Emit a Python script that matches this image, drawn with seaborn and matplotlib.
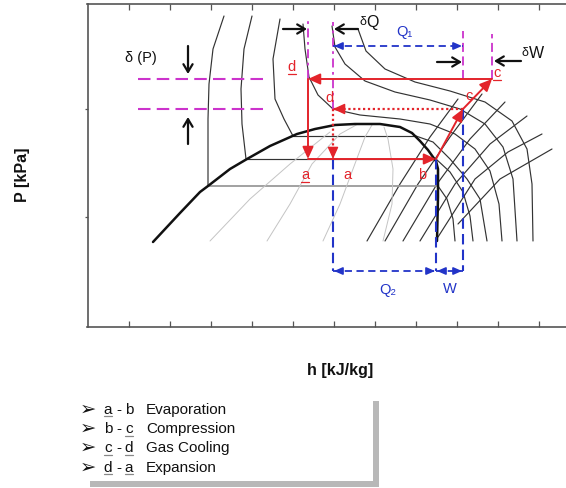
import matplotlib
matplotlib.use("Agg")
import matplotlib.pyplot as plt
import seaborn as sns
import pandas as pd

# ---------------- data (diagram units: h to the right, p up from the bottom axis) -------------
h_ticks = [128.5, 169.5, 210.5, 251.5, 292.5, 333.5, 374.5, 415.5, 456.5, 497.5, 538.5]
p_ticks = [110, 218]

# saturation dome
dome_h = [153, 180, 200, 208, 230, 247, 270, 297, 315, 335, 355, 380, 400, 412, 420, 428, 433, 436, 438, 438, 437]
dome_p = [85, 114, 135, 141, 158, 168, 181, 193, 198, 202, 203, 203, 200, 194, 186, 177, 170, 166, 158, 130, 86]

# isotherms (liquid / two-phase / vapour parts)
t1_liq_h = [224, 213, 209, 208, 208]
t1_liq_p = [311, 278, 243, 208, 141]
t1_two_h = [208, 438]
t1_two_p = [141, 141]
t1_vap_h = [438, 447, 453, 455]
t1_vap_p = [141, 128, 108, 86]

t2_liq_h = [252, 244, 241, 242, 246]
t2_liq_p = [311, 278, 238, 203, 168]
t2_two_h = [246, 436]
t2_two_p = [168, 168]
t2_vap_h = [436, 450, 463, 470, 473]
t2_vap_p = [168, 155, 135, 111, 86]

t3_liq_h = [280, 273, 275, 284, 293]
t3_liq_p = [308, 268, 228, 208, 191]
t3_two_h = [293, 416]
t3_two_p = [191, 191]
t3_vap_h = [416, 433, 450, 467, 480, 487]
t3_vap_p = [191, 185, 168, 148, 128, 86]

t4_h = [303, 305, 309, 318, 333, 360, 400, 430, 455, 475, 490, 499, 502]
t4_p = [303, 278, 250, 232, 218, 212, 208, 203, 193, 178, 156, 123, 86]
t5_h = [332, 335, 345, 365, 395, 430, 460, 485, 503, 513, 517]
t5_p = [301, 280, 263, 246, 235, 227, 218, 203, 180, 148, 86]
t6_h = [358, 366, 385, 415, 450, 485, 512, 527, 532, 533]
t6_p = [298, 276, 258, 245, 236, 225, 206, 178, 143, 86]

# isentropes
s1_h = [367, 400, 430, 458]
s1_p = [86, 143, 190, 228]
s2_h = [385, 418, 450, 482]
s2_p = [86, 143, 190, 233]
s3_h = [403, 437, 470, 505]
s3_p = [86, 143, 188, 225]
s4_h = [420, 455, 490, 527]
s4_p = [86, 143, 183, 211]
s5_h = [438, 475, 508, 542]
s5_p = [90, 148, 175, 193]
s6_h = [458, 500, 552]
s6_p = [103, 148, 178]

# constant quality lines inside the dome
q1_h = [210, 250, 290, 330]
q1_p = [86, 128, 163, 195]
q2_h = [267, 290, 312, 340, 358]
q2_p = [86, 123, 163, 193, 203]
q3_h = [323, 340, 353, 365, 372]
q3_p = [86, 123, 158, 190, 202]
q4_h = [383, 392, 393, 388, 384]
q4_p = [86, 123, 158, 188, 200]

# cycle states
state_names = ["a_", "a", "b", "c", "c_", "d", "d_"]
state_h = [308, 333, 436, 463, 492, 333, 308]
state_p = [168, 168, 168, 218, 248, 218, 248]
solid_steps = [("d_", "a_"), ("a_", "b"), ("b", "c"), ("c", "c_"), ("c_", "d_")]
dotted_steps = [("c", "d"), ("d", "a")]

# legend rows
legend_first = ["a", "b", "c", "d"]
legend_second = ["b", "c", "d", "a"]
legend_desc = ["Evaporation", "Compression", "Gas Cooling", "Expansion"]
underline_first = [True, False, True, True]
underline_second = [False, True, True, True]

# ---------------- style ----------------
sns.set_theme(style="white")
plt.rcParams["font.family"] = ["Liberation Sans", "DejaVu Sans"]

W, H = 566, 489
RED = "#e3242b"
BLUE = "#2234c8"
MAG = "#cc33cc"
BLK = "#111111"

def fx(x):
    return x / W

def fy(y):
    return 1 - y / H

fig = plt.figure(figsize=(W / 100, H / 100), dpi=100)
ax = fig.add_axes([fx(87.5), fy(328), fx(566) - fx(87.5), fy(4.5) - fy(328)])
ax.set_xlim(87.5, 566)
ax.set_ylim(0, 323.5)


def line(xs, ys, **kw):
    sns.lineplot(x=xs, y=ys, estimator=None, sort=False, ax=ax, legend=False, **kw)


# ---------------- curves through seaborn ----------------
groups = {
    "dark": [(t1_liq_h, t1_liq_p), (t1_vap_h, t1_vap_p), (t2_liq_h, t2_liq_p), (t2_two_h, t2_two_p),
             (t2_vap_h, t2_vap_p), (t3_liq_h, t3_liq_p), (t3_two_h, t3_two_p), (t3_vap_h, t3_vap_p),
             (t4_h, t4_p), (t5_h, t5_p), (t6_h, t6_p),
             (s1_h, s1_p), (s2_h, s2_p), (s3_h, s3_p), (s4_h, s4_p), (s5_h, s5_p), (s6_h, s6_p)],
    "gray": [(t1_two_h, t1_two_p)],
    "light": [(q1_h, q1_p), (q2_h, q2_p), (q3_h, q3_p), (q4_h, q4_p)],
    "dome": [(dome_h, dome_p)],
}
group_style = {"dark": ("#333333", 0.85), "gray": ("#9a9a9a", 1.3),
               "light": ("#c4c4c4", 0.7), "dome": ("#111111", 1.8)}

for g, items in groups.items():
    rows = []
    for i, (hh, pp) in enumerate(items):
        for k, (x, y) in enumerate(zip(hh, pp)):
            rows.append({"curve": i, "order": k, "h": x, "p": y})
    df = pd.DataFrame(rows)
    col, lw = group_style[g]
    sns.lineplot(data=df, x="h", y="p", units="curve", estimator=None, sort=False,
                 color=col, linewidth=lw, ax=ax, legend=False)

# ---------------- guide lines ----------------
pos = {n: (h, p) for n, h, p in zip(state_names, state_h, state_p)}

# magenta pressure / enthalpy markers
for pv in [pos["d_"][1], pos["d"][1]]:
    line([138, 268], [pv, pv], color=MAG, linewidth=1.5, linestyle=(0, (6, 3)))
for n, top in [("d_", 306), ("d", 305)]:
    line([pos[n][0]] * 2, [pos[n][1], top], color=MAG, linewidth=1.3,
         linestyle=(0, (5, 2.5, 1.5, 2.5)))
for xv, top in [(pos["c"][0], 296), (pos["c_"][0], 293)]:
    line([xv, xv], [248, top], color=MAG, linewidth=1.3, linestyle=(0, (5, 2.5)))

# blue verticals
for n in ["a", "b", "c"]:
    line([pos[n][0]] * 2, [pos[n][1], 56], color=BLUE, linewidth=1.5, linestyle=(0, (5, 2.5)))


def head(x0, y0, x1, y1, color, ms=11):
    ax.annotate("", xy=(x1, y1), xytext=(x0, y0),
                arrowprops=dict(arrowstyle="-|>,head_length=0.5,head_width=0.22", color=color,
                                lw=1.2, shrinkA=0, shrinkB=0, mutation_scale=ms))


def blue_double(xa, xb, yv):
    line([xa, xb], [yv, yv], color=BLUE, linewidth=1.3, linestyle=(0, (4, 2.5)))
    head(xa + 7, yv, xa + 1, yv, BLUE, 10)
    head(xb - 7, yv, xb - 1, yv, BLUE, 10)


blue_double(pos["a"][0], pos["b"][0], 56)
blue_double(pos["b"][0], pos["c"][0], 56)
blue_double(pos["a"][0], pos["c"][0], 281)

# ---------------- process lines ----------------
for s, e in solid_steps:
    ax.annotate("", xy=pos[e], xytext=pos[s],
                arrowprops=dict(arrowstyle="-|>,head_length=0.55,head_width=0.25", color=RED,
                                lw=1.4, shrinkA=0, shrinkB=0, mutation_scale=13))
for s, e in dotted_steps:
    (x0, y0), (x1, y1) = pos[s], pos[e]
    line([x0, x1], [y0, y1], color=RED, linewidth=1.6, linestyle=(0, (1, 1.2)))
    dx, dy = x1 - x0, y1 - y0
    L = (dx * dx + dy * dy) ** 0.5
    ax.annotate("", xy=(x1, y1), xytext=(x1 - 9 * dx / L, y1 - 9 * dy / L),
                arrowprops=dict(arrowstyle="-|>,head_length=0.55,head_width=0.25", color=RED,
                                lw=1.0, shrinkA=0, shrinkB=0, mutation_scale=13))

# ---------------- black arrows ----------------
black_arrows = [((188, 281), (188, 253)), ((188, 183), (188, 210)),
                ((283, 298), (307, 298)), ((358, 298), (334, 298)),
                ((437, 265), (462, 265)), ((521, 266), (494, 266))]
for s, e in black_arrows:
    ax.annotate("", xy=e, xytext=s,
                arrowprops=dict(arrowstyle="->,head_length=0.5,head_width=0.3", color=BLK,
                                lw=1.6, shrinkA=0, shrinkB=0, mutation_scale=11))

# ---------------- labels in plot ----------------
red_labels = [("d", 292, 261, True), ("d", 330, 230, False), ("c", 469, 232, False),
              ("c", 497, 255, True), ("a", 305, 153, True), ("a", 347, 153, False),
              ("b", 422, 153, False)]
for t, x, y, u in red_labels:
    ax.text(x, y, t, color=RED, fontsize=10.5, ha="center", va="center")
    if u:
        line([x - 4, x + 4], [y - 8, y - 8], color=RED, linewidth=0.9)

ax.text(125, 270, "δ (P)", color=BLK, fontsize=10.5, ha="left", va="center")
ax.text(359, 306, "δ", color=BLK, fontsize=9, ha="left", va="center")
ax.text(366, 305, "Q", color=BLK, fontsize=11.5, ha="left", va="center")
ax.text(521, 275, "δ", color=BLK, fontsize=9, ha="left", va="center")
ax.text(529, 274, "W", color=BLK, fontsize=11.5, ha="left", va="center")
ax.text(404, 296, "Q₁", color=BLUE, fontsize=10.5, ha="center", va="center")
ax.text(388, 38, "Q₂", color=BLUE, fontsize=10.5, ha="center", va="center")
ax.text(450, 39, "W", color=BLUE, fontsize=10.5, ha="center", va="center")

# ---------------- axes cosmetics ----------------
ax.set_xlabel("")
ax.set_ylabel("")
ax.set_xticks(h_ticks)
ax.set_yticks(p_ticks)
ax.set_xticklabels([])
ax.set_yticklabels([])
ax.tick_params(axis="x", which="both", direction="in", length=4.5, width=0.9, color="#555555",
               top=True, bottom=True)
ax.tick_params(axis="y", which="both", direction="out", length=2.5, width=0.9, color="#555555",
               left=True, right=False)
for side in ["left", "bottom", "top"]:
    ax.spines[side].set_visible(True)
    ax.spines[side].set_color("#555555")
    ax.spines[side].set_linewidth(1.2)
ax.spines["right"].set_visible(False)

fig.text(fx(22), fy(175), "P [kPa]", rotation=90, ha="center", va="center",
         fontsize=11.5, fontweight="bold", color=BLK)
fig.text(fx(340), fy(371), "h [kJ/kg]", ha="center", va="center",
         fontsize=11.5, fontweight="bold", color=BLK)

# ---------------- legend box ----------------
fig.add_artist(plt.Rectangle((fx(373), fy(488)), fx(6), fy(402) - fy(488),
                             transform=fig.transFigure, color="#b8b8b8", lw=0))
fig.add_artist(plt.Rectangle((fx(90), fy(488)), fx(289), fy(482) - fy(488),
                             transform=fig.transFigure, color="#b8b8b8", lw=0))

row_base = [414, 433.5, 452.5, 472]
for i, yb in enumerate(row_base):
    fig.text(fx(80), fy(yb + 0.5), "➢", fontsize=14, ha="left", va="baseline", color=BLK,
             family=["DejaVu Sans"])
    fig.text(fx(108), fy(yb), legend_first[i], fontsize=11, ha="center", va="baseline", color=BLK)
    fig.text(fx(119), fy(yb), "-", fontsize=11, ha="center", va="baseline", color=BLK)
    fig.text(fx(129), fy(yb), legend_second[i], fontsize=11, ha="center", va="baseline", color=BLK)
    fig.text(fx(146), fy(yb), legend_desc[i], fontsize=11, ha="left", va="baseline", color=BLK)
    for flag, xc in [(underline_first[i], 108), (underline_second[i], 129)]:
        if flag:
            fig.add_artist(plt.Line2D([fx(xc - 4), fx(xc + 4)], [fy(yb + 3), fy(yb + 3)],
                                      transform=fig.transFigure, color="#888888", lw=0.9))

fig.savefig("out.png", dpi=100)
